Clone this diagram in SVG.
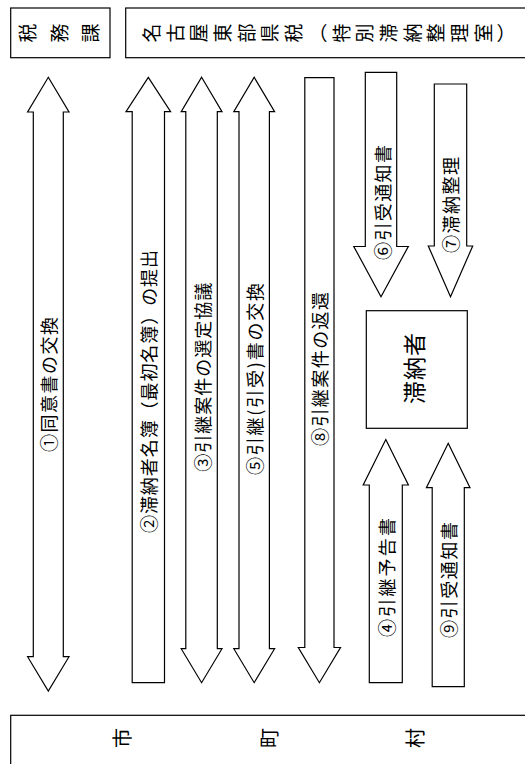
<svg xmlns="http://www.w3.org/2000/svg" width="525" height="764" viewBox="0 0 525 764">
<style>
.shape{fill:#fff;stroke:#000;stroke-width:1.2;stroke-linejoin:miter}
.t{font-family:"Noto Sans CJK JP","Noto Sans CJK SC",sans-serif;fill:#000}
.lbl{font-size:18px;dominant-baseline:central}
.v{writing-mode:vertical-rl;dominant-baseline:central}
</style>
<rect width="525" height="764" fill="#fff"/>
<g id="node-zeimuka">
<rect class="shape" x="10.7" y="8" width="99.3" height="49.7"/>
<text class="t v" transform="translate(0,33) rotate(-90)" x="0" y="18.5" font-size="19" letter-spacing="12.5">税務課</text>
</g>
<g id="node-kenzei">
<rect class="shape" x="125.7" y="8" width="410" height="49.7"/>
<text class="t v" transform="translate(0,33) rotate(-90)" x="0" y="142.2" font-size="19" letter-spacing="4.7">名古屋東部県税（特別滞納整理室）</text>
</g>
<g id="node-shichoson">
<rect class="shape" x="10.7" y="715.3" width="530" height="60"/>
<text class="t v" transform="translate(0,738) rotate(-90)" x="0" y="112.5 259 405.5" font-size="20">市町村</text>
</g>
<g id="node-tainousha">
<rect class="shape" x="366.3" y="310.7" width="101" height="117.6"/>
<text class="t" transform="translate(412.7,404) rotate(-90)" x="0" y="0" font-size="23" dominant-baseline="central" textLength="71" lengthAdjust="spacing">滞納者</text>
</g>
<g id="connectors">
<g id="a1">
<polygon class="shape" points="48.3,77.3 69,112 63.3,112 63.3,656.7 69,656.7 48.3,691 27.6,656.7 33.3,656.7 33.3,112 27.6,112"/>
<text class="t lbl" transform="translate(48.3,452) rotate(-90)" textLength="135" lengthAdjust="spacing">①同意書の交換</text>
</g>
<g id="a2">
<polygon class="shape" points="148.3,77.3 170.6,111.7 164.5,111.7 164.5,682.7 132.2,682.7 132.2,111.7 126,111.7"/>
<text class="t lbl" transform="translate(148.3,533) rotate(-90)" textLength="283" lengthAdjust="spacing">②滞納者名簿（最初名簿）の提出</text>
</g>
<g id="a3">
<polygon class="shape" points="201.6,77.3 222,111.7 217.3,111.7 217.3,648.7 222,648.7 201.6,682.7 181.2,648.7 185.8,648.7 185.8,111.7 181.2,111.7"/>
<text class="t lbl" transform="translate(201.6,471.7) rotate(-90)" textLength="189" lengthAdjust="spacing">③引継案件の選定協議</text>
</g>
<g id="a5">
<polygon class="shape" points="254.2,77.3 274.6,111.7 269.4,111.7 269.4,648.7 274.6,648.7 254.2,682.7 233.8,648.7 239,648.7 239,111.7 233.8,111.7"/>
<text class="t lbl" transform="translate(254.2,475) rotate(-90)" textLength="192" lengthAdjust="spacing">⑤引継(引受)書の交換</text>
</g>
<g id="a8">
<polygon class="shape" points="304.8,77.7 334,77.7 334,647.5 340.5,647.5 319.4,682.7 298.3,647.5 304.8,647.5"/>
<text class="t lbl" transform="translate(318.8,446) rotate(-90)" textLength="154" lengthAdjust="spacing">⑧引継案件の返還</text>
</g>
<g id="a6">
<polygon class="shape" points="365.3,72.3 396.7,72.3 396.7,246.5 408.3,246.5 381,296.7 353.8,246.5 365.3,246.5"/>
<text class="t lbl" transform="translate(381.5,260) rotate(-90)" textLength="115" lengthAdjust="spacing">⑥引受通知書</text>
</g>
<g id="a7">
<polygon class="shape" points="434.3,84 466.7,84 466.7,246 472.7,246 450.5,296.7 428.3,246 434.3,246"/>
<text class="t lbl" transform="translate(449.5,253) rotate(-90)" textLength="96" lengthAdjust="spacing">⑦滞納整理</text>
</g>
<g id="a4">
<polygon class="shape" points="385.8,439.5 408.4,485 402.3,485 402.3,682.7 369.3,682.7 369.3,485 363.2,485"/>
<text class="t lbl" transform="translate(385.8,637) rotate(-90)" textLength="119" lengthAdjust="spacing">④引継予告書</text>
</g>
<g id="a9">
<polygon class="shape" points="448.2,443.3 470,487.7 464.3,487.7 464.3,686.7 432.2,686.7 432.2,487.7 426.4,487.7"/>
<text class="t lbl" transform="translate(447.5,638) rotate(-90)" textLength="116" lengthAdjust="spacing">⑨引受通知書</text>
</g>
</g>
</svg>
